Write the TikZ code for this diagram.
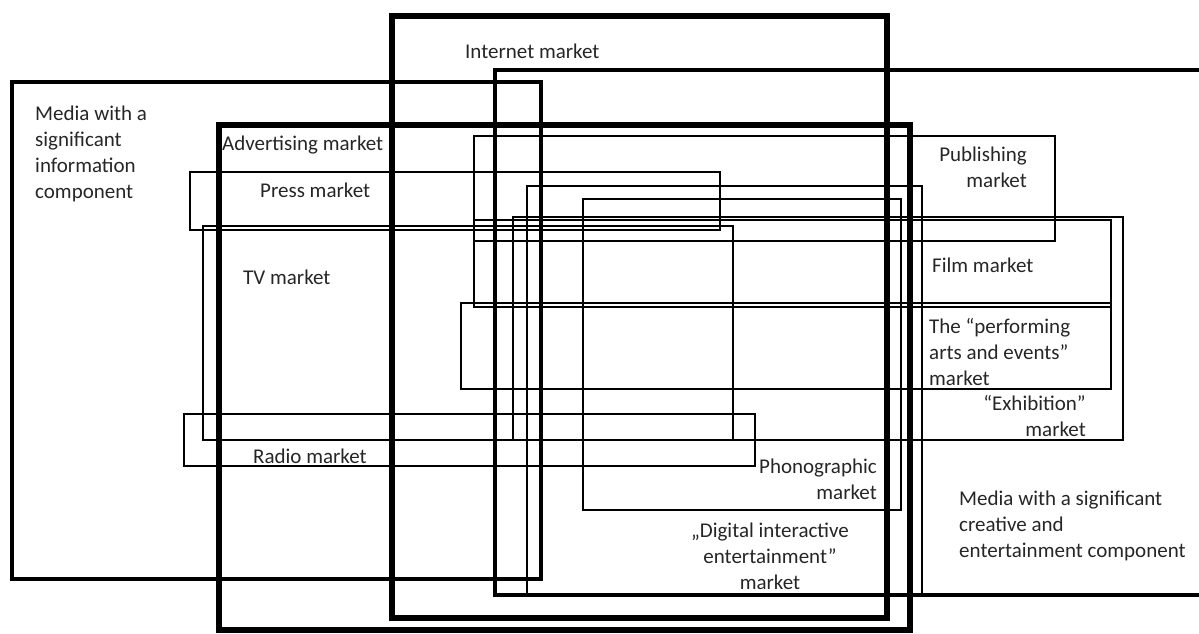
\documentclass[tikz,border=0pt]{standalone}
\usepackage{fontspec}
\setmainfont{Carlito}
\begin{document}
\begin{tikzpicture}[x=1pt,y=-1pt,
  thinbox/.style={draw=black,line width=1.8pt},
  infobox/.style={draw=black,line width=4.5pt},
  creabox/.style={draw=black,line width=4pt},
  bigbox/.style={draw=black,line width=6pt},
  lbl/.style={inner sep=0pt,font={\fontsize{21}{26}\selectfont},text=black!85}]
\useasboundingbox (0,0) rectangle (1199,634);
% thick outer boxes
\draw[infobox] (12,82) rectangle (541,579);
\draw[bigbox] (392,16) rectangle (887,618);
\draw[creabox] (495,70) rectangle (1215,595);
\draw[bigbox] (219,125) rectangle (910,630);
% thin market boxes
\draw[thinbox] (474,136) rectangle (1055,241);
\draw[thinbox] (190,172) rectangle (720,230);
\draw[thinbox] (203,226) rectangle (733,440);
\draw[thinbox] (527,186) rectangle (922,596);
\draw[thinbox] (583,199) rectangle (901,510);
\draw[thinbox] (513,217) rectangle (1123,440);
\draw[thinbox] (474,220) rectangle (1111,307);
\draw[thinbox] (461,303) rectangle (1111,389);
\draw[thinbox] (184,414) rectangle (755,466);
% labels (multi-line nodes: base = baseline of last line)
\node[lbl,anchor=base west,align=left] (info) at (35,198) {Media with a\\significant\\information\\component};
\node[lbl,anchor=base west] (internet) at (465,59) {Internet market};
\node[lbl,anchor=base west] (adv) at (222,150) {Advertising market};
\node[lbl,anchor=base west] (press) at (260,197) {Press market};
\node[lbl,anchor=base west] (tv) at (243,284) {TV market};
\node[lbl,anchor=base west] (radio) at (253,463) {Radio market};
\node[lbl,anchor=base east,align=right] (pub) at (1027,187) {Publishing\\market};
\node[lbl,anchor=base west] (film) at (932,272) {Film market};
\node[lbl,anchor=base west,align=left] (perf) at (929,385) {The “performing\\arts and events”\\market};
\node[lbl,anchor=base east,align=right] (exh) at (1086,436) {“Exhibition”\\market};
\node[lbl,anchor=base east,align=right] (phono) at (877,499) {Phonographic\\market};
\node[lbl,anchor=base,align=center] (dig) at (770,589) {„Digital interactive\\entertainment”\\market};
\node[lbl,anchor=base west,align=left] (crea) at (959,557) {Media with a significant\\creative and\\entertainment component};
\end{tikzpicture}
\end{document}
